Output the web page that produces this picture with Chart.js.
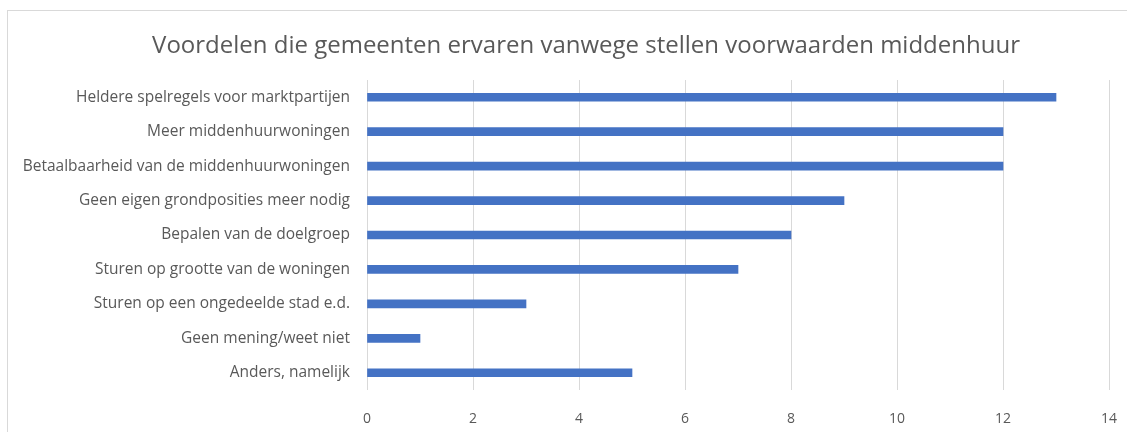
<!DOCTYPE html>
<html>
<head>
<meta charset="utf-8">
<script src="https://cdn.jsdelivr.net/npm/chart.js@4/dist/chart.umd.min.js"></script>
<style>
  html, body { margin: 0; padding: 0; background: #fff; overflow: hidden; }
  #wrap { position: relative; width: 1127px; height: 432px; }
  #frame { position: absolute; left: 7px; top: 10px; width: 1130px; height: 440px;
           border: 1px solid #d9d9d9; box-sizing: border-box; pointer-events: none; }
</style>
</head>
<body>
<div id="wrap">
  <canvas id="chart" width="1127" height="432"></canvas>
  <div id="frame"></div>
</div>
<script>
var categories = [
  "Heldere spelregels voor marktpartijen",
  "Meer middenhuurwoningen",
  "Betaalbaarheid van de middenhuurwoningen",
  "Geen eigen grondposities meer nodig",
  "Bepalen van de doelgroep",
  "Sturen op grootte van de woningen",
  "Sturen op een ongedeelde stad e.d.",
  "Geen mening/weet niet",
  "Anders, namelijk"
];
var aantallen = [13, 12, 12, 9, 8, 7, 3, 1, 5];
var xTicks = [0, 2, 4, 6, 8, 10, 12, 14];
var chartTitle = "Voordelen die gemeenten ervaren vanwege stellen voorwaarden middenhuur";

var fontFam = "'Open Sans', sans-serif";
var textGrey = "#595959";

// titel hangt niet boven het plotvlak maar boven het hele kader, dus zelf tekenen
var kopTitel = {
  id: "kopTitel",
  afterDraw: function (chart) {
    var c = chart.ctx;
    c.save();
    c.font = "24px " + fontFam;
    c.fillStyle = textGrey;
    c.textAlign = "center";
    c.textBaseline = "middle";
    c.fillText(chartTitle, 586, 46);
    c.restore();
  }
};

var ctx = document.getElementById("chart").getContext("2d");
var chart = new Chart(ctx, {
  type: "bar",
  data: {
    labels: categories,
    datasets: [{
      label: "Aantal",
      data: aantallen,
      backgroundColor: "#4472C4",
      borderWidth: 0,
      barThickness: 8
    }]
  },
  plugins: [kopTitel],
  options: {
    indexAxis: "y",
    responsive: false,
    animation: false,
    layout: { padding: { top: 80, right: 18, bottom: 7, left: 0 } },
    plugins: {
      legend: { display: false },
      tooltip: { enabled: false },
      title: { display: false }
    },
    scales: {
      x: {
        min: xTicks[0],
        max: xTicks[xTicks.length - 1],
        afterBuildTicks: function (axis) {
          axis.ticks = xTicks.map(function (v) { return { value: v }; });
        },
        afterFit: function (axis) {
          axis.height = 35;
          axis.paddingLeft = 0;
          axis.paddingRight = 0;
        },
        grid: { color: "#d9d9d9", drawTicks: false, lineWidth: 1 },
        border: { display: false },
        ticks: { color: textGrey, font: { family: fontFam, size: 14 }, padding: 21 }
      },
      y: {
        afterFit: function (axis) {
          axis.width = 367;
          axis.paddingTop = 0;
          axis.paddingBottom = 0;
        },
        grid: { display: false },
        border: { display: false },
        ticks: { color: textGrey, font: { family: fontFam, size: 15.5 }, padding: 9 }
      }
    }
  }
});
</script>
</body>
</html>
